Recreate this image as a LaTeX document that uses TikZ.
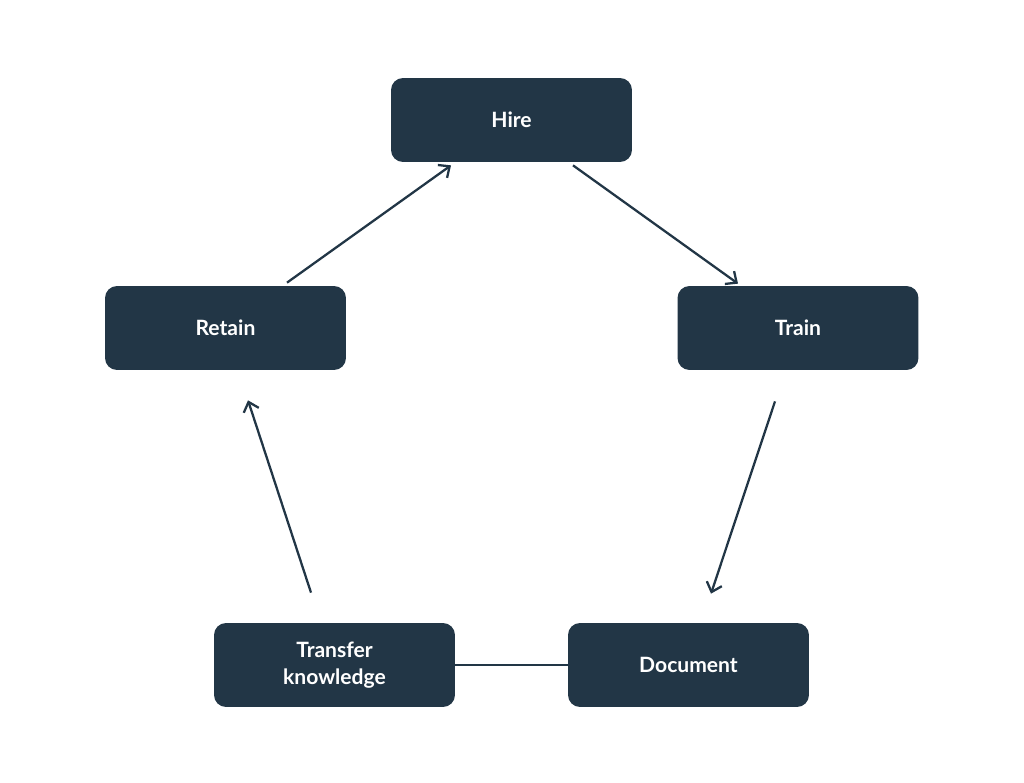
\documentclass[tikz,border=0pt]{standalone}
\usepackage{fontspec}
\setmainfont{Lato}
\usetikzlibrary{arrows.meta}
\definecolor{boxdark}{HTML}{223646}
\tikzset{
    stagebox/.style={fill=boxdark, rounded corners=0.24cm, minimum width=4.82cm, minimum height=1.68cm, inner sep=0pt, text=white, align=center, font=\bfseries\fontsize{12}{15.3}\selectfont},
    flow/.style={draw=boxdark, line width=1.3pt, -{Straight Barb[length=5pt, width=9pt, line width=1.3pt]}},
    link/.style={draw=boxdark, line width=1.3pt}
}
\begin{document}
\begin{tikzpicture}[x=0.02cm, y=-0.02cm]

        \useasboundingbox (0,0) rectangle (1024,783);

        \node [stagebox] (hire) at (511.5,120) {Hire};
        \node [stagebox] (retain) at (225.5,328) {Retain};
        \node [stagebox] (train) at (798,328) {Train};
        \node [stagebox] (transfer) at (334.5,665) {Transfer\\knowledge};
        \node [stagebox] (document) at (688.5,665) {Document};

        \draw [flow] ([shift={(61.5,-3)}]retain.north) -- ([shift={(-60.5,3)}]hire.south);
        \draw [flow] ([shift={(61.5,3)}]hire.south) -- ([shift={(-60,-2)}]train.north);
        \draw [flow] ([shift={(-23,31)}]train.south) -- ([shift={(22.5,-29)}]document.north);
        \draw [flow] ([shift={(-23.5,-30)}]transfer.north) -- ([shift={(22.5,30)}]retain.south);

        \draw [link] (transfer.east) -- (document.west);

    \end{tikzpicture}
\end{document}
